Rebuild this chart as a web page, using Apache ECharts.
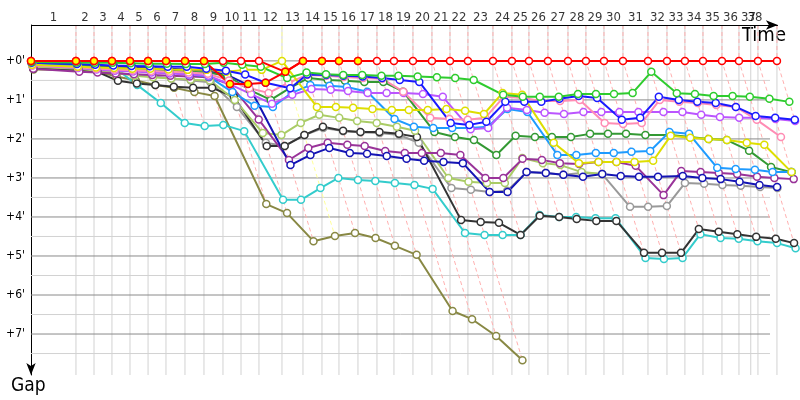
<!DOCTYPE html>
<html><head><meta charset="utf-8">
<script src="https://cdn.jsdelivr.net/npm/echarts@6/dist/echarts.min.js"></script>
<style>html,body{margin:0;padding:0;background:#fff}#c{width:800px;height:400px}</style>
</head><body><div id="c"></div>
<script>
// Leader's cumulative race time (minutes) at the end of each lap; index = lap (0 = start)
const lapTimes = [0,3.81,5.34,6.86,8.39,9.92,11.44,13.05,14.66,16.27,17.80,19.32,21.27,23.05,24.66,26.10,27.71,29.32,30.76,32.37,33.98,35.51,37.03,39.15,40.76,42.20,43.81,45.51,47.03,48.56,50.17,52.29,53.90,55.42,56.95,58.56,60.00,61.61,63.22];
const lapLabels = ['1','2','3','4','5','6','7','8','9','10','11','12','13','14','15','16','17','18','19','20','21','22','23','24','25','26','27','28','29','30','31','32','33','34','35','36','37','38'];
const yellowLedLaps = [12];
const extraTimeLines = [61.0];
const gapTickLabels = ["+0'","+1'","+2'","+3'","+4'","+5'","+6'","+7'"];

// Gaps (minutes) per lap, index = lap
const gapLeader = [0,0,0,0,0,0,0,0,0,0,0,0,0.28,0,0,0,0,0,0,0,0,0,0,0,0,0,0,0,0,0,0,0,0,0,0,0,0,0,0];
const gapRed = [0,0,0,0,0,0,0,0,0,0.59,0.59,0.56,0.28,0,0,0,0];
const gapGreen = [0.03,0.04,0.05,0.05,0.06,0.07,0.07,0.08,0.08,0.05,0.1,0.15,0.44,0.3,0.34,0.36,0.36,0.38,0.38,0.4,0.42,0.44,0.49,0.87,0.92,0.92,0.92,0.85,0.85,0.85,0.82,0.28,0.83,0.85,0.9,0.9,0.92,0.97,1.05];
const gapBlue = [0.05,0.08,0.1,0.12,0.13,0.14,0.15,0.15,0.2,0.25,0.35,0.56,0.7,0.35,0.36,0.38,0.4,0.44,0.49,0.54,1.59,1.64,1.56,1.05,1.05,1.05,0.97,0.9,0.95,1.51,1.46,0.92,1.0,1.05,1.08,1.18,1.41,1.46,1.51];
const gapNavy = [0.08,0.1,0.12,0.14,0.16,0.18,0.2,0.22,0.25,0.36,0.62,2.67,2.41,2.23,2.36,2.38,2.44,2.51,2.56,2.59,2.62,3.36,3.36,2.85,2.87,2.92,2.97,2.9,2.95,2.97,2.97,2.95,3.0,3.03,3.1,3.18,3.23];
const gapYellow = [0.1,0.15,0.17,0.18,0.2,0.2,0.22,0.23,0.23,0.28,0.23,0.23,0.0,1.18,1.18,1.2,1.23,1.26,1.26,1.26,1.23,1.28,1.36,0.82,0.87,2.1,2.62,2.59,2.59,2.59,2.56,1.92,1.97,2.0,2.03,2.1,2.15,2.85];
const gapPink = [0.12,0.16,0.2,0.22,0.24,0.26,0.28,0.3,0.33,0.5,0.7,0.82,0.56,0.36,0.38,0.41,0.44,0.46,0.79,1.46,1.49,1.51,1.46,0.92,0.95,1.03,1.03,1.0,1.59,1.62,1.59,1.0,1.05,1.08,1.13,1.18,1.51,1.95];
const gapDodger = [0.1,0.14,0.18,0.2,0.22,0.25,0.3,0.35,0.4,0.8,1.15,1.18,0.82,0.62,0.64,0.67,0.79,1.49,1.69,1.72,1.72,1.72,1.69,1.23,1.31,2.41,2.41,2.36,2.36,2.33,2.31,1.82,1.87,2.74,2.77,2.79,2.85,2.85];
const gapViolet = [0.12,0.18,0.22,0.25,0.27,0.3,0.32,0.35,0.38,0.6,0.85,1.1,0.87,0.72,0.74,0.77,0.82,0.82,0.82,0.85,0.92,1.75,1.72,1.2,1.26,1.33,1.36,1.31,1.31,1.31,1.31,1.31,1.31,1.38,1.44,1.46,1.46,1.49,1.54];
const gapDarkGreen = [0.1,0.12,0.15,0.18,0.2,0.22,0.25,0.28,0.3,0.38,0.75,1.0,0.69,0.44,0.49,0.51,0.54,0.54,0.79,1.82,1.95,2.03,2.41,1.92,1.95,1.95,1.95,1.87,1.87,1.87,1.9,1.9,1.95,2.0,2.03,2.3,2.72,2.85];
const gapLightGreen = [0.15,0.2,0.25,0.3,0.38,0.42,0.45,0.48,0.5,1.0,1.85,1.9,1.59,1.38,1.46,1.54,1.59,1.69,1.79,3.0,3.1,3.13,3.13,2.49,2.62,2.67,2.85,2.9];
const gapPurple = [0.2,0.28,0.3,0.32,0.34,0.36,0.38,0.4,0.42,0.6,1.5,2.54,2.23,2.1,2.15,2.18,2.31,2.36,2.36,2.36,2.41,3.0,3.0,2.51,2.54,2.62,2.64,2.59,2.59,2.69,3.44,2.82,2.85,2.87,2.9,2.97,3.0,3.03];
const gapGray = [0.18,0.22,0.26,0.3,0.36,0.4,0.45,0.5,0.55,1.18,2.1,2.18,1.9,1.72,1.8,1.83,1.85,1.9,2.1,3.26,3.3,3.36,3.33,2.85,2.87,2.92,2.87,2.9,3.74,3.74,3.72,3.13,3.15,3.18,3.2,3.23,3.26];
const gapDarkGray = [0.2,0.23,0.28,0.51,0.58,0.62,0.66,0.69,0.69,0.92,2.18,2.18,1.9,1.69,1.79,1.82,1.82,1.87,1.95,4.08,4.13,4.15,4.46,3.97,4.0,4.05,4.1,4.1,4.92,4.92,4.92,4.31,4.38,4.44,4.51,4.56,4.67];
const gapOlive = [0.22,0.23,0.28,0.4,0.5,0.62,0.69,0.8,0.9,3.67,3.9,4.62,4.49,4.41,4.54,4.74,4.97,6.41,6.62,7.05,7.67];
const gapCyan = [0.15,0.12,0.13,0.15,0.62,1.08,1.59,1.67,1.64,1.8,3.56,3.56,3.26,3.0,3.05,3.08,3.13,3.18,3.28,4.41,4.46,4.46,4.46,3.95,4.0,4.0,4.03,4.03,5.05,5.08,5.05,4.44,4.54,4.56,4.62,4.67,4.8];

const drivers = [
  {g: gapOlive, c: '#888844'},
  {g: gapCyan, c: '#33cccc'},
  {g: gapGray, c: '#999999'},
  {g: gapDarkGray, c: '#333333'},
  {g: gapLightGreen, c: '#aacc66'},
  {g: gapPurple, c: '#993399'},
  {g: gapNavy, c: '#1414b4'},
  {g: gapDarkGreen, c: '#339933'},
  {g: gapDodger, c: '#1e9bff'},
  {g: gapViolet, c: '#bb55ff'},
  {g: gapPink, c: '#ff8cb4'},
  {g: gapYellow, c: '#dede00'},
  {g: gapBlue, c: '#1a1aff'},
  {g: gapGreen, c: '#2ecc2e'},
  {g: gapLeader, c: '#ff0000'},
  {g: gapRed, c: '#ff0000', fill: '#ffff00'}
];

const Y_TOP = -0.92, Y_BOT = 8.05, X_MAX = 64.75, AXIS_END = 63.3, H_END = 62.63;
const FONT = "'DejaVu Sans Condensed','DejaVu Sans',sans-serif";

function toPts(gaps){ return gaps.map((g,i)=>[lapTimes[i]+g, g]); }

// grid lines
const vGrid = [];
lapTimes.slice(1).concat(extraTimeLines).forEach(t=>{ vGrid.push([t,Y_TOP],[t,Y_BOT],[t,'-']); });
const hLight = [], hDark = [];
for (let v=0; v<=7.5; v+=0.5){
  const arr = (v%1===0) ? hDark : hLight;
  arr.push([0,v],[H_END,v],['-',v]);
}
// lap diagonals
const diagPink = [], diagYellow = [];
for (let k=1;k<lapTimes.length;k++){
  let gmax = 0;
  drivers.forEach(d=>{ if (d.g.length>k && d.g[k]>gmax) gmax = d.g[k]; });
  const t = lapTimes[k];
  const arr = yellowLedLaps.includes(k) ? diagYellow : diagPink;
  arr.push([t,Y_TOP],[t,0],[t+gmax,gmax],[t,'-']);
}
const lapLabelPts = lapLabels.map((s,i)=>({value:[Math.min((lapTimes[i]+lapTimes[i+1])/2, 61.35), Y_TOP], name:s}));

function helper(data,color,type,z){
  return {type:'line', data, showSymbol:false, symbol:'none', silent:true, clip:false, animation:false,
    connectNulls:false, z, lineStyle:{color, width:1, type}};
}

const series = [
  helper(hLight,'#d2d2d2','solid',1),
  helper(vGrid,'#d2d2d2','solid',1),
  helper(hDark,'#8a8a8a','solid',1),
  helper(diagPink,'#ffb0b0',[4,3],2),
  helper(diagYellow,'#ffff99',[4,3],2),
  {type:'scatter', data: lapLabelPts, symbolSize:0, silent:true, clip:false, animation:false, z:5,
   label:{show:true, position:'top', distance:1, formatter:p=>p.name, color:'#000', fontSize:13, fontFamily:FONT},
   markLine:{silent:true, animation:false, symbol:['none','arrow'], symbolSize:[7,12], label:{show:false},
     lineStyle:{color:'#000', width:1, type:'solid'},
     data:[[{coord:[0,Y_TOP]},{coord:[AXIS_END,Y_TOP]}]]}}
];
drivers.forEach((d,i)=>{
  series.push({type:'line', data: toPts(d.g), symbol:'circle', symbolSize:7, showSymbol:true, clip:false,
    animation:false, silent:true, z: 3,
    lineStyle:{color:d.c, width:2},
    itemStyle:{color: d.fill || '#ffffff', borderColor:d.c, borderWidth:1.5}});
});

const chart = echarts.init(document.getElementById('c'), null, {renderer:'canvas'});
chart.setOption({
  backgroundColor:'#fff',
  animation:false,
  grid:{left:31, right:5, top:25, bottom:25},
  xAxis:{type:'value', position:'top', min:0, max:X_MAX,
    axisLine:{show:false}, axisTick:{show:false}, axisLabel:{show:false}, splitLine:{show:false}},
  yAxis:{type:'value', inverse:true, min:Y_TOP, max:Y_BOT, splitNumber:9,
    axisLine:{show:true, lineStyle:{color:'#000', width:1}, symbol:['arrow','none'], symbolSize:[7,12]},
    axisTick:{show:false}, splitLine:{show:false},
    axisLabel:{margin:6, fontSize:12, fontFamily:FONT, color:'#000',
      formatter:v=>{ const r=Math.round(v); return (Math.abs(v-r)<1e-6 && r>=0 && r<gapTickLabels.length) ? gapTickLabels[r] : ''; }}},
  graphic:[
    {type:'text', left:742, top:26, style:{text:'Time', font:"20px "+FONT, fill:'#000'}},
    {type:'text', left:11, top:377, style:{text:'Gap', font:"19px "+FONT, fill:'#000'}}
  ],
  series
});
</script></body></html>
